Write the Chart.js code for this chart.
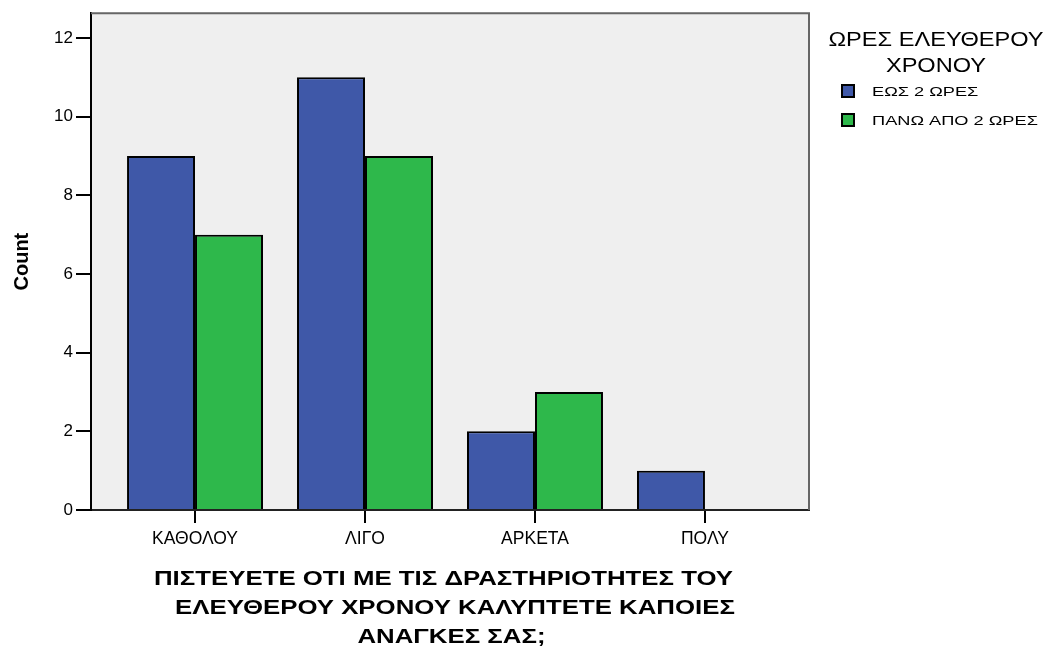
<!DOCTYPE html>
<html>
<head>
<meta charset="utf-8">
<script src="https://cdn.jsdelivr.net/npm/chart.js@4"></script>
<style>
  html, body { margin: 0; padding: 0; background: #fff; }
  #wrap { width: 1047px; height: 648px; }
</style>
</head>
<body>
<div id="wrap"><canvas id="chart" width="1047" height="648"></canvas></div>
<script>
const categories = ['ΚΑΘΟΛΟΥ', 'ΛΙΓΟ', 'ΑΡΚΕΤΑ', 'ΠΟΛΥ'];
const seriesNames = ['ΕΩΣ 2 ΩΡΕΣ', 'ΠΑΝΩ ΑΠΟ 2 ΩΡΕΣ'];
const upTo2 = [9, 11, 2, 1];
const over2 = [7, 9, 3, 0];
const yTicks = [0, 2, 4, 6, 8, 10, 12];
const legendTitle = ['ΩΡΕΣ ΕΛΕΥΘΕΡΟΥ', 'ΧΡΟΝΟΥ'];
const xTitle = ['ΠΙΣΤΕΥΕΤΕ ΟΤΙ ΜΕ ΤΙΣ ΔΡΑΣΤΗΡΙΟΤΗΤΕΣ ΤΟΥ', 'ΕΛΕΥΘΕΡΟΥ ΧΡΟΝΟΥ ΚΑΛΥΠΤΕΤΕ ΚΑΠΟΙΕΣ', 'ΑΝΑΓΚΕΣ ΣΑΣ;'];
const yTitle = 'Count';

const colors = ['#3F58A8', '#2EB84B'];
const FONT = '"Liberation Sans", Arial, sans-serif';

const toPoints = arr => arr.map((v, i) => ({ x: i, y: v }));

// text drawn a bit wider than the font, like the SPSS export
function wideText(ctx, text, x, y, sx, align) {
  ctx.save();
  ctx.translate(x, y);
  ctx.scale(sx, 1);
  ctx.textAlign = align;
  ctx.fillText(text, 0, 0);
  ctx.restore();
}

// grey plot background + frame
const plotBg = {
  id: 'plotBg',
  beforeDraw(chart) {
    const { ctx, chartArea: a } = chart;
    ctx.save();
    ctx.fillStyle = '#EFEFEF';
    ctx.fillRect(a.left, a.top, a.right - a.left, a.bottom - a.top);
    ctx.restore();
  },
  afterDraw(chart) {
    const { ctx, chartArea: a } = chart;
    ctx.save();
    ctx.strokeStyle = '#666';
    ctx.lineWidth = 2;
    ctx.beginPath();
    ctx.moveTo(a.left, a.top);
    ctx.lineTo(a.right, a.top);
    ctx.lineTo(a.right, a.bottom);
    ctx.stroke();
    ctx.restore();
  }
};

// x axis title, three centred lines under the plot
const xTitlePlugin = {
  id: 'xTitlePlugin',
  afterDraw(chart) {
    const { ctx, chartArea: a } = chart;
    const cx = (a.left + a.right) / 2;
    const shift = [-6.5, 5, 1.5];
    ctx.save();
    ctx.fillStyle = '#000';
    ctx.textBaseline = 'middle';
    ctx.font = 'bold 20px ' + FONT;
    xTitle.forEach((t, i) => wideText(ctx, t, cx + shift[i], 579 + i * 29, 1.29, 'center'));
    ctx.restore();
  }
};

// legend on the right, SPSS style
const sideLegend = {
  id: 'sideLegend',
  afterDraw(chart) {
    const { ctx } = chart;
    ctx.save();
    ctx.fillStyle = '#000';
    ctx.textBaseline = 'middle';
    ctx.font = '20px ' + FONT;
    legendTitle.forEach((t, i) => wideText(ctx, t, 936, 40 + i * 26, 1.18, 'center'));
    ctx.font = '13px ' + FONT;
    seriesNames.forEach((name, i) => {
      const y = 91 + i * 29;
      ctx.fillStyle = colors[i];
      ctx.fillRect(842, y - 6, 12, 12);
      ctx.strokeStyle = '#000';
      ctx.lineWidth = 2;
      ctx.strokeRect(842, y - 6, 12, 12);
      ctx.fillStyle = '#000';
      wideText(ctx, name, 872, y + 1, 1.4, 'left');
    });
    ctx.restore();
  }
};

new Chart(document.getElementById('chart'), {
  type: 'bar',
  data: {
    datasets: [upTo2, over2].map((arr, i) => ({
      label: seriesNames[i],
      data: toPoints(arr),
      backgroundColor: colors[i],
      borderColor: '#000',
      borderWidth: ctx => (ctx.raw && ctx.raw.y ? 2 : 0),
      categoryPercentage: 0.8,
      barPercentage: 1.0
    }))
  },
  options: {
    responsive: false,
    animation: false,
    layout: { padding: { top: 13, right: 238, left: 0, bottom: 0 } },
    plugins: {
      legend: { display: false },
      tooltip: { enabled: false }
    },
    scales: {
      x: {
        type: 'linear',
        offset: false,
        min: -0.612,
        max: 3.612,
        afterBuildTicks: s => { s.ticks = categories.map((c, i) => ({ value: i })); },
        afterFit: s => { s.height = 138; },
        ticks: {
          callback: v => categories[v],
          color: '#000',
          font: { family: FONT, size: 17.5 },
          padding: 6,
          maxRotation: 0,
          autoSkip: false
        },
        grid: { offset: false, drawOnChartArea: false, drawTicks: true, tickLength: 13, color: '#000', lineWidth: 2 },
        border: { display: true, color: '#222', width: 2 }
      },
      y: {
        min: 0,
        max: 12.63,
        afterBuildTicks: s => { s.ticks = yTicks.map(v => ({ value: v })); },
        afterFit: s => { s.width = 91; },
        ticks: {
          color: '#000',
          font: { family: FONT, size: 17 },
          padding: 3
        },
        grid: { drawOnChartArea: false, drawTicks: true, tickLength: 15, color: '#000', lineWidth: 2 },
        border: { display: true, color: '#000', width: 2 },
        title: {
          display: true,
          text: yTitle,
          color: '#000',
          font: { family: FONT, size: 20, weight: 'bold', lineHeight: 1.2 },
          padding: { top: 10, bottom: 0 }
        }
      }
    }
  },
  plugins: [plotBg, xTitlePlugin, sideLegend]
});
</script>
</body>
</html>
